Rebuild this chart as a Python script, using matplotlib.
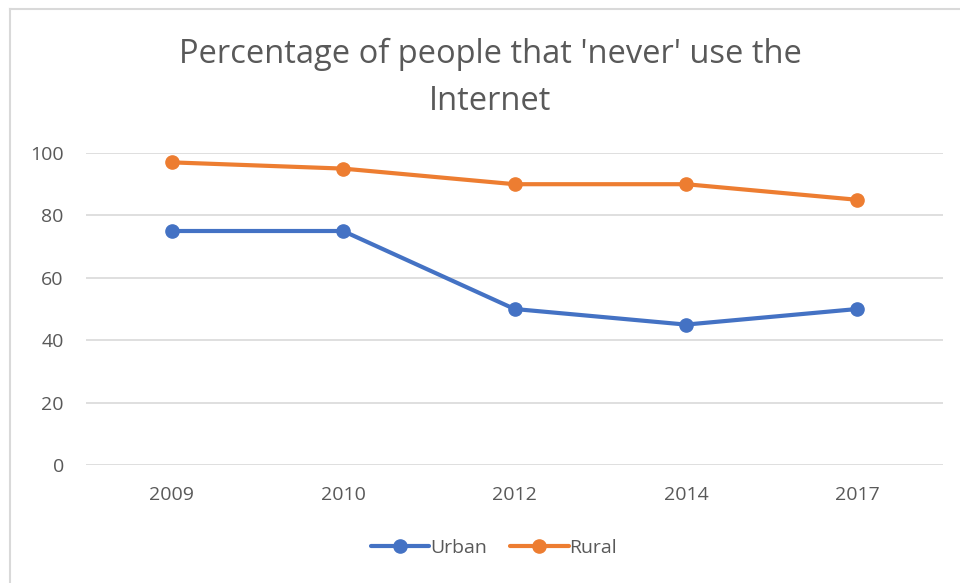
import matplotlib
matplotlib.use("Agg")
import matplotlib.pyplot as plt
from matplotlib.lines import Line2D

years = ["2009", "2010", "2012", "2014", "2017"]
urban = [75, 75, 50, 45, 50]
rural = [97, 95, 90, 90, 85]
y_ticks = [0, 20, 40, 60, 80, 100]

blue = "#4472C4"
orange = "#ED7D31"
text_col = "#595959"
grid_col = "#D9D9D9"

plt.rcParams["font.family"] = ["Open Sans", "DejaVu Sans"]

W, H = 960, 583
fig = plt.figure(figsize=(W / 100, H / 100), dpi=100)
fig.patch.set_facecolor("white")

# chart frame (top and left edges visible)
fig.add_artist(Line2D([9.5 / W, 9.5 / W], [0, 1 - 8.5 / H], transform=fig.transFigure,
                      color="#D9D9D9", lw=1.5))
fig.add_artist(Line2D([9.5 / W, 1], [1 - 8.5 / H, 1 - 8.5 / H], transform=fig.transFigure,
                      color="#D9D9D9", lw=1.5))

left, right, top, bottom = 86, 943, 153, 465
ax = fig.add_axes([left / W, 1 - bottom / H, (right - left) / W, (bottom - top) / H])
x = list(range(len(years)))
ax.plot(x, urban, color=blue, lw=3.0, marker="o", ms=9.5, solid_capstyle="round", label="Urban")
ax.plot(x, rural, color=orange, lw=3.0, marker="o", ms=9.5, solid_capstyle="round", label="Rural")

ax.set_xlim(-0.5, len(years) - 0.5)
ax.set_ylim(0, 100)
ax.set_yticks(y_ticks)
ax.set_xticks(x)
ax.set_xticklabels(years)
for s in ax.spines.values():
    s.set_visible(False)
ax.grid(axis="y", color=grid_col, lw=1.2)
ax.set_axisbelow(True)
ax.tick_params(length=0, labelsize=14, labelcolor=text_col)
ax.tick_params(axis="y", pad=16)
ax.tick_params(axis="x", pad=15)

fig.text(490 / W, 1 - 78 / H, "Percentage of people that 'never' use the\nInternet",
         ha="center", va="center", fontsize=23.5, color=text_col, linespacing=1.58)

leg = fig.legend(loc="center", bbox_to_anchor=(494 / W, 1 - 548 / H), ncol=2, frameon=False,
                 fontsize=14, labelcolor=text_col, handlelength=3.0, handletextpad=0.05,
                 columnspacing=1.2)

fig.savefig("out.png", dpi=100, facecolor="white")
